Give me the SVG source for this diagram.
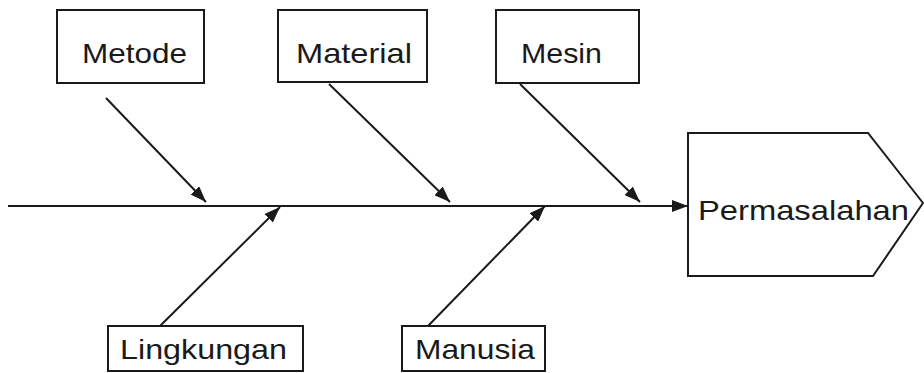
<svg xmlns="http://www.w3.org/2000/svg" width="924" height="373" viewBox="0 0 924 373">
<defs>
<marker id="ah" markerWidth="16" markerHeight="12" refX="16" refY="6" orient="auto" markerUnits="userSpaceOnUse">
<path d="M0,0 L16,6 L0,12 Z" fill="#1a1a1a"/>
</marker>
</defs>
<style>
.box{fill:#fff;stroke:#1a1a1a;stroke-width:2}
.lbl{font-family:"Liberation Sans",Arial,sans-serif;font-size:28px;fill:#1a1a1a}
.con{stroke:#1a1a1a;stroke-width:2;fill:none;marker-end:url(#ah)}
</style>
<rect width="924" height="373" fill="#fff"/>
<g id="connectors">
<line class="con" x1="8" y1="206" x2="688" y2="206"/>
<line class="con" x1="106" y1="98" x2="206" y2="202"/>
<line class="con" x1="329" y1="84" x2="450" y2="202"/>
<line class="con" x1="520" y1="84" x2="640" y2="202"/>
<line class="con" x1="160" y1="326" x2="280" y2="207"/>
<line class="con" x1="428" y1="326" x2="545" y2="206"/>
</g>
<g id="metode">
<rect class="box" x="57" y="10" width="147" height="73"/>
<text class="lbl" x="82" y="63" textLength="105" lengthAdjust="spacingAndGlyphs">Metode</text>
</g>
<g id="material">
<rect class="box" x="278" y="10" width="149" height="72"/>
<text class="lbl" x="296" y="63" textLength="116" lengthAdjust="spacingAndGlyphs">Material</text>
</g>
<g id="mesin">
<rect class="box" x="496" y="10" width="143" height="73"/>
<text class="lbl" x="521" y="63" textLength="81" lengthAdjust="spacingAndGlyphs">Mesin</text>
</g>
<g id="permasalahan">
<polygon class="box" points="688,133 868,133 923,203 873,276 688,276"/>
<text class="lbl" x="698" y="220" textLength="211" lengthAdjust="spacingAndGlyphs">Permasalahan</text>
</g>
<g id="lingkungan">
<rect class="box" x="108" y="326" width="195" height="45"/>
<text class="lbl" x="120" y="359" textLength="167" lengthAdjust="spacingAndGlyphs">Lingkungan</text>
</g>
<g id="manusia">
<rect class="box" x="402" y="326" width="143" height="45"/>
<text class="lbl" x="415" y="359" textLength="120" lengthAdjust="spacingAndGlyphs">Manusia</text>
</g>
</svg>
